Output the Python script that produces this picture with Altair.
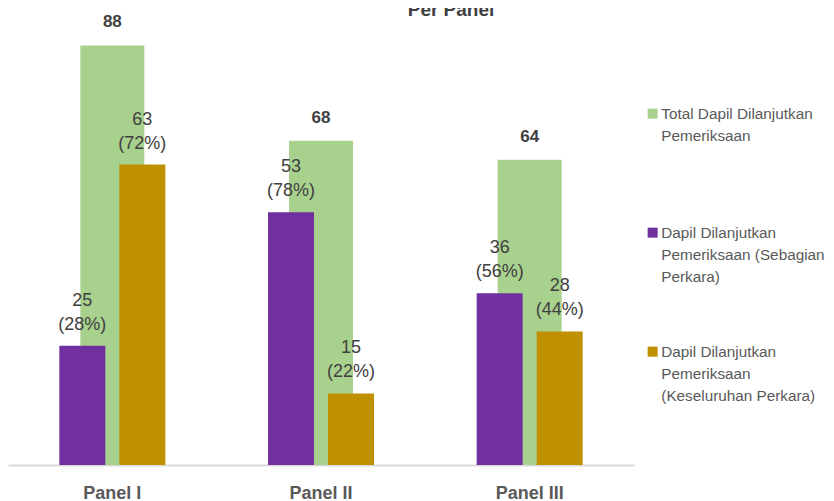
import altair as alt
import pandas as pd

panels = ["Panel I", "Panel II", "Panel III"]
total = [88, 68, 64]
sebagian = [25, 53, 36]
keseluruhan = [63, 15, 28]
pct_sebagian = [28, 78, 56]
pct_keseluruhan = [72, 22, 44]
legend_labels = [
    "Total Dapil Dilanjutkan|Pemeriksaan",
    "Dapil Dilanjutkan|Pemeriksaan (Sebagian|Perkara)",
    "Dapil Dilanjutkan|Pemeriksaan|(Keseluruhan Perkara)",
]
colors = ["#a9d18e", "#7030a0", "#bf9000"]

df = pd.DataFrame({
    "panel": panels, "total": total, "sebagian": sebagian,
    "keseluruhan": keseluruhan, "ps": pct_sebagian, "pk": pct_keseluruhan,
})

font = "Liberation Sans, Arial, sans-serif"

x = alt.X("panel:N", sort=panels,
          scale=alt.Scale(paddingInner=0, paddingOuter=0),
          axis=alt.Axis(title=None, labelAngle=0, ticks=False, domainColor="#d9d9d9",
                        domainWidth=2, labelFontSize=18, labelFontWeight="bold",
                        labelColor="#595959", labelFont=font, labelPadding=19))
y_scale = alt.Scale(domain=[0, 95])

color_scale = alt.Scale(domain=legend_labels, range=colors)
legend = alt.Legend(title=None, orient="none", legendX=637, legendY=94,
                    symbolType="square", symbolSize=100, symbolStrokeWidth=0,
                    labelFontSize=15.3, labelColor="#595959", labelFont=font,
                    labelLimit=400, labelBaseline="middle",
                    labelExpr="split(datum.label, '|')", gridAlign="all",
                    rowPadding=59, labelOffset=1, padding=0)
color = alt.Color("series:N", scale=color_scale, legend=legend)

base = alt.Chart(df)

def series(i):
    return base.transform_calculate(series=f"'{legend_labels[i]}'")

green = series(0).mark_bar(width=64).encode(
    x=x, y=alt.Y("total:Q", scale=y_scale, axis=None), color=color)
purple = series(1).mark_bar(width=46, xOffset=-30).encode(
    x=x, y=alt.Y("sebagian:Q", scale=y_scale, axis=None), color=color)
gold = series(2).mark_bar(width=46, xOffset=30).encode(
    x=x, y=alt.Y("keseluruhan:Q", scale=y_scale, axis=None), color=color)

t_total = base.mark_text(baseline="bottom", dy=-14, fontSize=17, fontWeight="bold",
                         font=font, color="#404040").encode(
    x=x, y=alt.Y("total:Q", scale=y_scale, axis=None), text=alt.Text("total:Q", format="d"))
t_seb = base.transform_calculate(
    t="datum.sebagian + '\\n(' + datum.ps + '%)'"
).mark_text(baseline="bottom", dy=-36, xOffset=-30, fontSize=18, font=font,
            color="#404040", lineBreak="\n", lineHeight=24).encode(
    x=x, y=alt.Y("sebagian:Q", scale=y_scale, axis=None), text="t:N")
t_kes = base.transform_calculate(
    t="datum.keseluruhan + '\\n(' + datum.pk + '%)'"
).mark_text(baseline="bottom", dy=-36, xOffset=30, fontSize=18, font=font,
            color="#404040", lineBreak="\n", lineHeight=24).encode(
    x=x, y=alt.Y("keseluruhan:Q", scale=y_scale, axis=None), text="t:N")

chart = alt.layer(green, purple, gold, t_total, t_seb, t_kes).properties(
    width=626, height=453,
    padding={"left": 0, "top": 4, "right": 192, "bottom": 36},
    autosize=alt.AutoSizeParams(type="none"),
    title=alt.TitleParams("Per Panel", fontSize=19, fontWeight="bold", color="#404040",
                          font=font, anchor="middle", frame="group", dx=130,
                          offset=-8),
).configure(
    view=alt.ViewConfig(stroke=None),
    style={"guide-label": alt.MarkConfig(lineHeight=22)},
)

chart.save("out.html", embed_options={"renderer": "svg", "actions": False})
